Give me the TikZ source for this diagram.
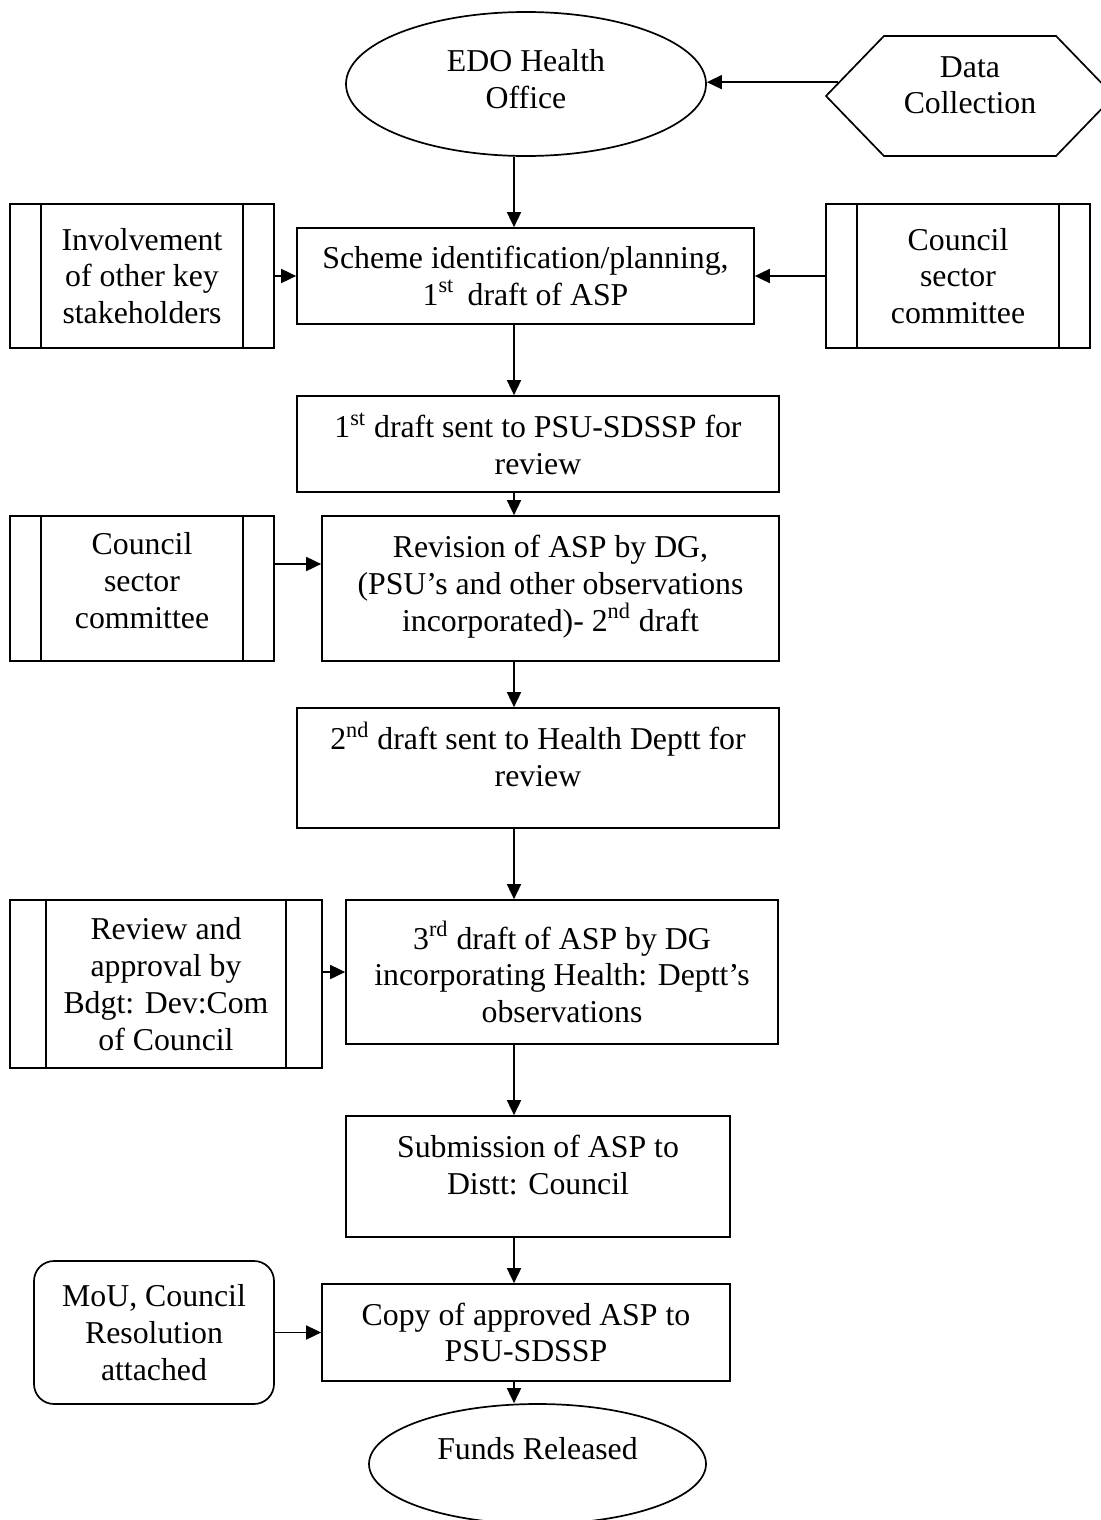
\documentclass[tikz,border=0pt]{standalone}
\usepackage{fontspec}
\setmainfont{Liberation Serif}
\usetikzlibrary{arrows.meta,shapes.geometric,shapes.symbols}
\tikzset{
  process/.style={
    draw, line width=0.85pt, rectangle, align=center, inner sep=2pt},
  terminal/.style={
    draw, line width=0.85pt, ellipse, align=center, inner sep=0pt},
  prep/.style={
    draw, line width=0.85pt, signal, signal to=west and east,
    signal pointer angle=92, align=center, inner sep=0pt},
  note/.style={process, rounded corners=10pt},
  flow/.style={line width=0.85pt, -{Triangle[length=7.5pt,width=7pt]}},
}

\begin{document}
\begin{tikzpicture}[x=0.5pt, y=-0.5pt, font=\fontsize{15.9pt}{18.4pt}\selectfont]

  \useasboundingbox (0,0) rectangle (1101,1520);
  \coordinate (axis) at (514,0);

  % start and inputs
  \node[terminal, minimum width=180pt, minimum height=72pt, text depth=5pt] (edo) at (526,84)
    {EDO Health\\Office};
  \node[prep, minimum width=144pt, minimum height=60pt, text depth=11pt] (dc) at (970,96)
    {Data\\Collection};

  \node[process, minimum width=228.5pt, minimum height=48pt] (b1) at (525.5,276)
    {Scheme identification/planning,\\1\textsuperscript{st}\, draft of ASP};
  \node[process, minimum width=132pt, minimum height=72pt] (inv) at (142,276)
    {Involvement\\of other key\\stakeholders};
  \node[process, minimum width=132pt, minimum height=72pt] (csc1) at (958,276)
    {Council\\sector\\committee};

  \node[process, minimum width=241pt, minimum height=48pt] (b2) at (538,444)
    {1\textsuperscript{st} draft sent to PSU-SDSSP for\\review};

  \node[process, minimum width=228.5pt, minimum height=72.5pt, text depth=5pt] (b3) at (550.5,588.5)
    {Revision of ASP by DG,\\(PSU's and other observations\\incorporated)- 2\textsuperscript{nd} draft};
  \node[process, minimum width=132pt, minimum height=72.5pt, text depth=8pt] (csc2) at (142,588.5)
    {Council\\sector\\committee};

  \node[process, minimum width=241pt, minimum height=60pt, text depth=14pt] (b4) at (538,768)
    {2\textsuperscript{nd} draft sent to Health Deptt for\\review};

  \node[process, minimum width=216pt, minimum height=72pt] (b5) at (562,972)
    {3\textsuperscript{rd} draft of ASP by DG\\incorporating Health: Deptt's\\observations};
  \node[process, minimum width=156pt, minimum height=84pt] (rev) at (166,984)
    {Review and\\approval by\\Bdgt: Dev:Com\\of Council};

  \node[process, minimum width=192pt, minimum height=60.5pt, text depth=12pt] (b6) at (538,1176.5)
    {Submission of ASP to\\Distt: Council};

  \node[process, minimum width=204pt, minimum height=48.5pt] (b7) at (526,1332.5)
    {Copy of approved ASP to\\PSU-SDSSP};
  \node[note, minimum width=120pt, minimum height=71.5pt] (mou) at (154,1332.5)
    {MoU, Council\\Resolution\\attached};

  \node[terminal, minimum width=168.5pt, minimum height=60pt, text depth=16pt] (funds) at (537.5,1464)
    {Funds Released};

  % side bars of the predefined boxes
  \foreach \n/\o in {inv/16pt, csc1/16pt, csc2/16pt, rev/18.5pt}
    \draw[line width=0.85pt] ([xshift=\o]\n.north west) -- ([xshift=\o]\n.south west)
      ([xshift=-\o]\n.north east) -- ([xshift=-\o]\n.south east);

  % main line
  \foreach \a/\b in {edo/b1, b1/b2, b2/b3, b3/b4, b4/b5, b5/b6, b6/b7, b7/funds}
    \draw[flow] (\a.south -| axis) -- (\b.north -| axis);

  % side inputs
  \coordinate (dcout) at (dc.174);
  \draw[flow] (dcout) -- (dcout -| edo.east);
  \draw[flow] (inv.east) -- (b1.west);
  \draw[flow] (csc1.west) -- (b1.east);
  \coordinate (c2out) at ([yshift=12.25pt]csc2.east);
  \draw[flow] (c2out) -- (c2out -| b3.west);
  \draw[flow] (b5.west -| rev.east) -- (b5.west);
  \draw[flow] (mou.east) -- (b7.west);

\end{tikzpicture}
\end{document}
